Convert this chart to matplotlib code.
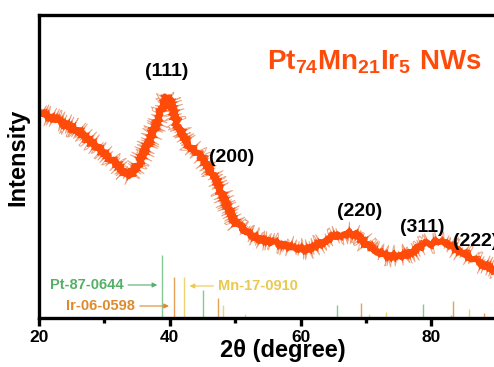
import numpy as np
import matplotlib.pyplot as plt

plt.rcParams['font.family'] = ['Liberation Sans', 'DejaVu Sans']
plt.rcParams['mathtext.fontset'] = 'custom'
plt.rcParams['mathtext.bf'] = 'Liberation Sans:bold'
plt.rcParams['mathtext.rm'] = 'Liberation Sans'

# XRD pattern (2theta, intensity in arbitrary units)
two_theta = [20, 21, 22, 23, 24, 25, 26, 27, 28, 29, 30, 31, 32, 33, 34, 35, 36, 37, 38, 39,
             39.5, 40, 40.5, 41, 42, 43, 44, 45, 46, 47, 48, 49, 50, 51, 52, 53, 54, 55, 56,
             57, 58, 59, 60, 61, 62, 63, 64, 65, 66, 67, 68, 69, 70, 71, 72, 73, 74, 75, 76,
             77, 78, 79, 80, 81, 82, 83, 84, 85, 86, 87, 88, 89, 90]
intensity = [206, 203, 200, 197, 194, 191, 187, 182, 176, 171, 165, 159, 153, 146, 143, 152, 165, 179, 195, 212,
             221, 218, 208, 197, 182, 172, 166, 159, 150, 138, 124, 109, 96, 89, 84, 81, 78, 77, 75,
             74, 72, 70, 69, 69, 71, 74, 78, 81, 83, 85, 85, 82, 74, 68, 65, 63, 62, 62, 63,
             66, 70, 73, 75, 76, 75, 72, 68, 64, 60, 56, 53, 50, 47]

# standard reference cards (position, relative height)
pt_pos = [38.85, 45.0, 65.5, 78.7, 83.0]
pt_h = [63, 28, 13, 14, 3]
ir_pos = [40.7, 47.4, 69.2, 83.3, 88.0]
ir_h = [41, 20, 15, 17, 5]
mn_pos = [42.2, 48.2, 51.5, 70.5, 73.1, 85.7]
mn_h = [41, 13, 4, 4, 6, 9]

peaks = ['(111)', '(200)', '(220)', '(311)', '(222)']
peak_x = [39.6, 49.5, 69.1, 78.6, 83.3]
peak_y = [247, 161, 106, 91, 77]

red = '#ff4b0a'
green = '#55b067'
orange = '#de8a2c'
yellow = '#ebc84e'

fig = plt.figure(figsize=(4.94, 3.67), dpi=100)
ax = fig.add_axes([39/494, 49/367, 455/494, 303/367])

# noisy look of the raw scan: a jittered thin line drawn over a solid band
spikes, = ax.plot(two_theta, intensity, color='#e9a383', lw=0.7)
spikes.set_sketch_params(scale=11, length=0.6, randomness=1.5)
band, = ax.plot(two_theta, intensity, color=red, lw=4.2, solid_joinstyle='round')
band.set_sketch_params(scale=2, length=0.6, randomness=1.5)
fine, = ax.plot(two_theta, intensity, color=red, lw=0.9)
fine.set_sketch_params(scale=6, length=0.6, randomness=1.5)

ax.vlines(pt_pos, 0, pt_h, color=green, lw=1, alpha=0.7)
ax.vlines(ir_pos, 0, ir_h, color=orange, lw=1, alpha=0.8)
ax.vlines(mn_pos, 0, mn_h, color=yellow, lw=1, alpha=0.8)

ax.annotate('', xy=(38.5, 33), xytext=(33.2, 33),
            arrowprops=dict(arrowstyle='-|>', color=green, lw=0.8, mutation_scale=7))
ax.text(33.0, 33, 'Pt-87-0644', color=green, fontsize=10.5, fontweight='bold', ha='right', va='center')
ax.annotate('', xy=(40.3, 12), xytext=(35.0, 12),
            arrowprops=dict(arrowstyle='-|>', color=orange, lw=0.8, mutation_scale=7))
ax.text(34.7, 12, 'Ir-06-0598', color=orange, fontsize=10.5, fontweight='bold', ha='right', va='center')
ax.annotate('', xy=(42.6, 32), xytext=(47.1, 32),
            arrowprops=dict(arrowstyle='-|>', color=yellow, lw=0.8, mutation_scale=7))
ax.text(47.4, 32, 'Mn-17-0910', color=yellow, fontsize=10.5, fontweight='bold', ha='left', va='center')

for i in range(len(peaks)):
    ha = 'left' if i == 4 else 'center'
    ax.text(peak_x[i], peak_y[i], peaks[i], fontsize=14, fontweight='bold', ha=ha, va='center')

ax.text(0.737, 0.843, r'$\mathbf{Pt_{74}Mn_{21}Ir_{5}\ NWs}$', color=red, fontsize=20,
        ha='center', va='center', transform=ax.transAxes)

ax.set_xlim(20, 89.57)
ax.set_ylim(0, 303)
ax.set_xticks([20, 40, 60, 80])
ax.set_xticks([30, 50, 70], minor=True)
ax.set_yticks([])
ax.tick_params(axis='x', which='major', direction='out', length=6, width=2.4, labelsize=12.5, pad=3)
ax.tick_params(axis='x', which='minor', direction='out', length=3.5, width=2.4)
for lab in ax.get_xticklabels():
    lab.set_fontweight('bold')
for s in ['left', 'top', 'bottom']:
    ax.spines[s].set_linewidth(2.4)
ax.spines['right'].set_visible(False)

ax.set_xlabel('2θ (degree)', fontsize=17, fontweight='bold')
ax.xaxis.set_label_coords(0.535, -0.108)
ax.xaxis.label.set_va('center')
ax.set_ylabel('Intensity', fontsize=17, fontweight='bold')
ax.yaxis.set_label_coords(-0.046, 0.531)
ax.yaxis.label.set_va('center')

fig.savefig('out.png', dpi=100)
